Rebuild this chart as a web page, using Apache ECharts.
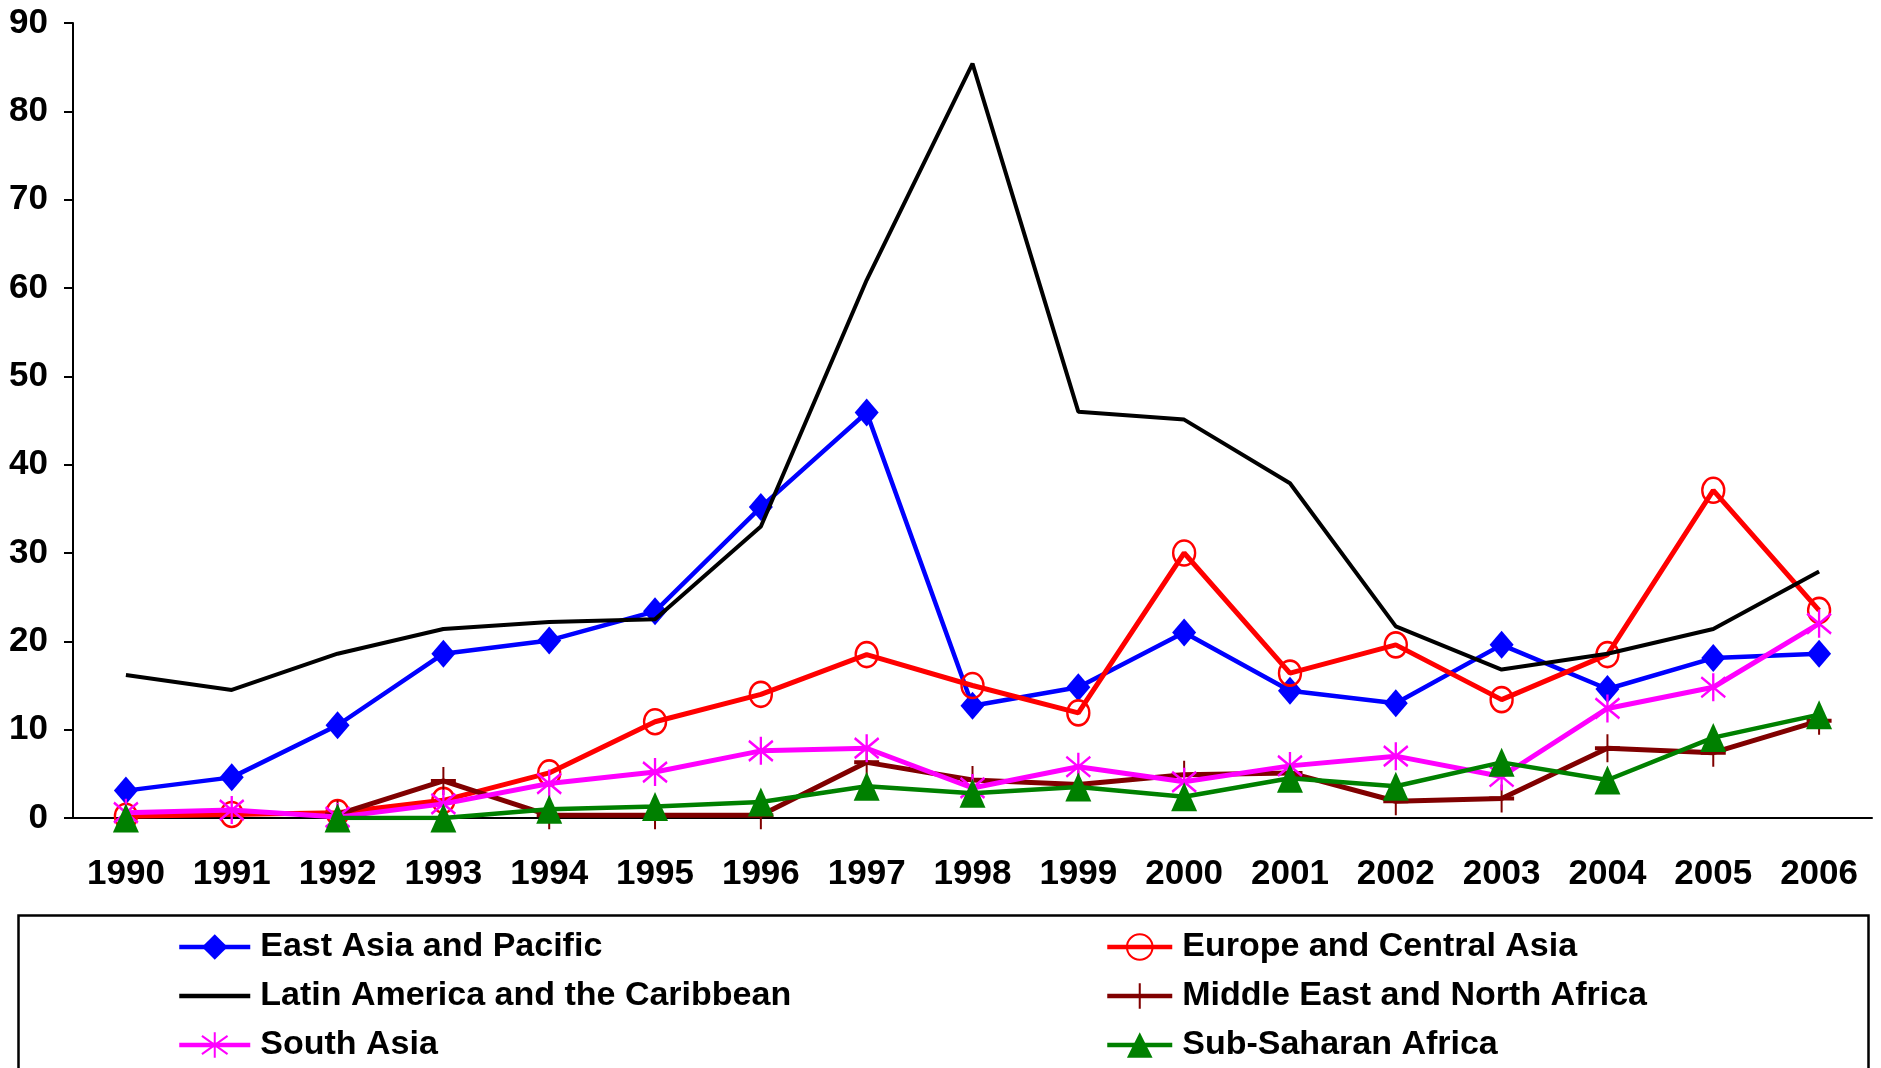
<!DOCTYPE html>
<html>
<head>
<meta charset="utf-8">
<script src="https://cdn.jsdelivr.net/npm/echarts@6/dist/echarts.min.js"></script>
<style>
html,body{margin:0;padding:0;background:#fff;}
#chart{width:1881px;height:1068px;}
</style>
</head>
<body>
<div id="chart"></div>
<script>
const years = ['1990','1991','1992','1993','1994','1995','1996','1997','1998','1999','2000','2001','2002','2003','2004','2005','2006'];
const yTicks = [0, 10, 20, 30, 40, 50, 60, 70, 80, 90];
const seriesNames = ['East Asia and Pacific','Europe and Central Asia','Latin America and the Caribbean','Middle East and North Africa','South Asia','Sub-Saharan Africa'];
const eastAsia = [3.1, 4.6, 10.5, 18.6, 20.1, 23.4, 35.2, 45.9, 12.7, 14.8, 21.0, 14.4, 13.0, 19.6, 14.6, 18.1, 18.6];
const europe = [0.2, 0.4, 0.6, 2.0, 5.1, 10.9, 14.0, 18.5, 15.0, 11.9, 30.0, 16.4, 19.6, 13.4, 18.5, 37.1, 23.5];
const latin = [16.2, 14.5, 18.6, 21.4, 22.2, 22.5, 33.0, 60.9, 85.4, 46.0, 45.1, 37.9, 21.7, 16.8, 18.6, 21.4, 27.9];
const mena = [null, null, 0.4, 4.2, 0.3, 0.3, 0.3, 6.3, 4.3, 3.8, 4.9, 5.1, 1.9, 2.2, 7.9, 7.4, 11.0];
const southAsia = [0.6, 0.9, 0.1, 1.6, 3.9, 5.2, 7.6, 7.9, 3.4, 5.8, 4.1, 5.9, 7.0, 4.7, 12.4, 14.8, 22.0];
const ssa = [0, null, 0, 0, 1.0, 1.3, 1.8, 3.6, 2.8, 3.5, 2.4, 4.5, 3.6, 6.3, 4.3, 9.1, 11.7];

const tickFont = "'Liberation Sans',Arial,sans-serif";
const legendFont = "'Liberation Sans',Arial,sans-serif";

const plusPath = 'path://M11.5,0h2v28h-2z M0,12h25v4h-25z';
const starPath = 'path://M12,0L12,28M0,4L24,24M0,24L24,4';

const legendText = {color:'#000', fontFamily:legendFont, fontWeight:'bold', fontSize:34, lineHeight:34, padding:[0,0,0,5]};

const chart = echarts.init(document.getElementById('chart'), null, {renderer:'canvas'});
const option = {
  backgroundColor:'#fff',
  animation:false,
  grid:{left:73, right:9, top:23, bottom:250, containLabel:false},
  xAxis:{
    type:'category', data:years, boundaryGap:true,
    axisLine:{lineStyle:{color:'#000', width:2}},
    axisTick:{show:false},
    axisLabel:{color:'#000', fontFamily:tickFont, fontWeight:'bold', fontSize:35, margin:39, interval:0},
    splitLine:{show:false}
  },
  yAxis:{
    type:'value', min:yTicks[0], max:yTicks[yTicks.length-1], interval:10,
    axisLine:{show:true, lineStyle:{color:'#000', width:2}},
    axisTick:{show:true, inside:false, length:9, lineStyle:{color:'#000', width:2}},
    axisLabel:{color:'#000', fontFamily:tickFont, fontWeight:'bold', fontSize:35, margin:25},
    splitLine:{show:false}
  },
  legend:[
    {
      orient:'vertical', left:177, top:930, padding:0, itemGap:15,
      itemWidth:71, itemHeight:32,
      lineStyle:{width:4.5},
      data:[
        {name:seriesNames[0]},
        {name:seriesNames[2], itemStyle:{opacity:0}},
        {name:seriesNames[4]}
      ],
      textStyle:legendText
    },
    {
      orient:'vertical', left:1105, top:930, padding:0, itemGap:15,
      itemWidth:65, itemHeight:32,
      lineStyle:{width:4.5},
      data:[seriesNames[1], seriesNames[3], seriesNames[5]],
      textStyle:legendText
    }
  ],
  graphic:[{
    type:'rect', left:16, top:913, z:-1,
    shape:{width:1850, height:200},
    style:{fill:'none', stroke:'#000', lineWidth:2.5}
  }],
  series:[
    {
      name:seriesNames[0], type:'line', data:eastAsia, z:2,
      symbol:'diamond', symbolSize:[24,28],
      lineStyle:{color:'#0000FF', width:4.5},
      itemStyle:{color:'#0000FF'}
    },
    {
      name:seriesNames[1], type:'line', data:europe, z:3,
      symbol:'circle', symbolSize:[22,25],
      lineStyle:{color:'#FF0000', width:5},
      itemStyle:{color:'rgba(255,255,255,0)', borderColor:'#FF0000', borderWidth:2.5}
    },
    {
      name:seriesNames[2], type:'line', data:latin, z:4,
      symbol:'none', showSymbol:false,
      lineStyle:{color:'#000000', width:4},
      itemStyle:{color:'#000000'}
    },
    {
      name:seriesNames[3], type:'line', data:mena, z:5,
      symbol:plusPath, symbolSize:[25,28],
      lineStyle:{color:'#800000', width:5},
      itemStyle:{color:'#800000'}
    },
    {
      name:seriesNames[4], type:'line', data:southAsia, z:6,
      symbol:starPath, symbolSize:[24,28],
      lineStyle:{color:'#FF00FF', width:5},
      itemStyle:{color:'rgba(0,0,0,0)', borderColor:'#FF00FF', borderWidth:2.5}
    },
    {
      name:seriesNames[5], type:'line', data:ssa, z:7,
      symbol:'triangle', symbolSize:[26,29],
      lineStyle:{color:'#008000', width:4.5},
      itemStyle:{color:'#008000'}
    }
  ]
};
chart.setOption(option);
</script>
</body>
</html>
